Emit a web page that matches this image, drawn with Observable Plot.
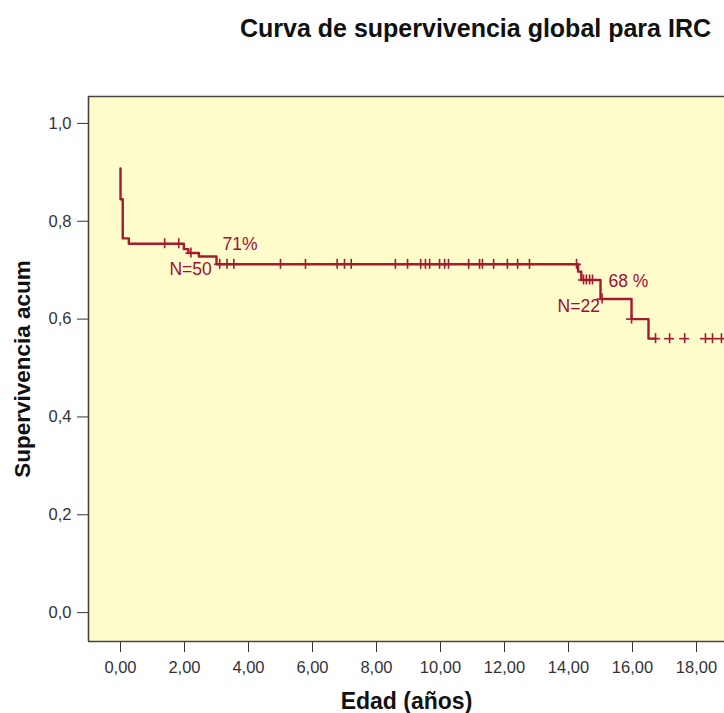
<!DOCTYPE html>
<html><head><meta charset="utf-8">
<script src="https://cdn.jsdelivr.net/npm/d3@7"></script>
<script src="https://cdn.jsdelivr.net/npm/@observablehq/plot@0.6"></script>
<style>
body{margin:0;background:#fff;overflow:hidden;font-family:"Liberation Sans",Arial,sans-serif;}
#wrap{position:relative;width:724px;height:713px;overflow:hidden;}
#title{position:absolute;left:240px;top:13px;font-size:25px;font-weight:bold;color:#111;white-space:nowrap;line-height:30px;}
#chart{position:absolute;left:0;top:50px;}
</style></head><body>
<div id="wrap"><div id="title">Curva de supervivencia global para IRC</div><div id="chart"></div></div>
<script>
// Kaplan-Meier step curve (time in years, cumulative survival)
const stepTimes = [0, 0, 0.07, 0.26, 1.98, 2.12, 2.45, 3.0, 14.3, 14.4, 15.0, 15.97, 16.5, 16.72];
const stepSurv  = [0.908, 0.845, 0.765, 0.754, 0.743, 0.735, 0.728, 0.712, 0.697, 0.680, 0.641, 0.600, 0.560, 0.560];
// censored observations
const censorTimes = [1.38, 1.82, 2.2, 3.1, 3.33, 3.54, 5.0, 5.78, 6.77, 7.0, 7.21, 8.59, 8.97, 9.38, 9.53, 9.66, 9.97, 10.13, 10.25, 10.88, 11.22, 11.31, 11.66, 12.09, 12.41, 12.78, 14.25, 14.47, 14.56, 14.66, 14.75, 15.05, 15.97, 16.72, 17.16, 17.63, 18.28, 18.5, 18.78];
const censorSurv  = [0.754, 0.754, 0.735, 0.712, 0.712, 0.712, 0.712, 0.712, 0.712, 0.712, 0.712, 0.712, 0.712, 0.712, 0.712, 0.712, 0.712, 0.712, 0.712, 0.712, 0.712, 0.712, 0.712, 0.712, 0.712, 0.712, 0.712, 0.680, 0.680, 0.680, 0.680, 0.641, 0.600, 0.560, 0.560, 0.560, 0.560, 0.560, 0.560];
// annotations
const annText = ["71%", "N=50", "68 %", "N=22"];
const annX = [3.19, 1.53, 15.25, 13.66];
const annY = [0.753, 0.701, 0.677, 0.626];
// ticks
const xTicks = [0, 2, 4, 6, 8, 10, 12, 14, 16, 18];
const yTicks = [0, 0.2, 0.4, 0.6, 0.8, 1.0];
const xLabel = "Edad (años)";
const yLabel = "Supervivencia acum";

const lineColor = "#a31b2e";
const textColor = "#9e1035";
const xDom = [-1, 18.875];
const yDom = [-0.059, 1.055];

const steps = stepTimes.map((t, i) => ({t, s: stepSurv[i]}));
const censor = censorTimes.map((t, i) => ({t, s: censorSurv[i]}));
const ann = annText.map((txt, i) => ({txt, x: annX[i], y: annY[i]}));

const chart = Plot.plot({
  width: 724, height: 663,
  marginLeft: 88, marginRight: 0, marginTop: 46, marginBottom: 72,
  style: {fontFamily: "Liberation Sans, Arial, sans-serif", fontSize: "16.5px", color: "#333", background: "transparent", overflow: "visible"},
  x: {domain: xDom, ticks: xTicks, tickFormat: d => d.toFixed(2).replace(".", ","), tickSize: 11, tickPadding: 9, label: null},
  y: {domain: yDom, ticks: yTicks, tickFormat: d => d.toFixed(1).replace(".", ","), tickSize: 11, tickPadding: 6, label: null},
  marks: [
    Plot.frame({fill: "#fffccc", stroke: null}),
    Plot.ruleX([xDom[0]], {stroke: "#444", strokeWidth: 1.6}),
    Plot.ruleY(yDom, {stroke: "#444", strokeWidth: 1.6}),
    Plot.line(steps, {x: "t", y: "s", curve: "step-after", stroke: lineColor, strokeWidth: 2.4}),
    Plot.ruleX(censor, {x: "t", y1: "s", y2: "s", insetTop: -5, insetBottom: -5, stroke: lineColor, strokeWidth: 1.6}),
    Plot.ruleY(censor, {y: "s", x1: "t", x2: "t", insetLeft: -5, insetRight: -5, stroke: lineColor, strokeWidth: 1.6}),
    Plot.text(ann, {x: "x", y: "y", text: "txt", textAnchor: "start", lineAnchor: "middle", fill: textColor, fontSize: 17.5}),
    Plot.text([yLabel], {frameAnchor: "left", rotate: -90, dx: -66, textAnchor: "middle", lineAnchor: "middle", fontSize: 22.5, fontWeight: "bold", fill: "#111"}),
    Plot.text([xLabel], {frameAnchor: "bottom", dy: 60, textAnchor: "middle", lineAnchor: "middle", fontSize: 23, fontWeight: "bold", fill: "#111"})
  ]
});
document.getElementById("chart").appendChild(chart);
</script>
</body></html>
